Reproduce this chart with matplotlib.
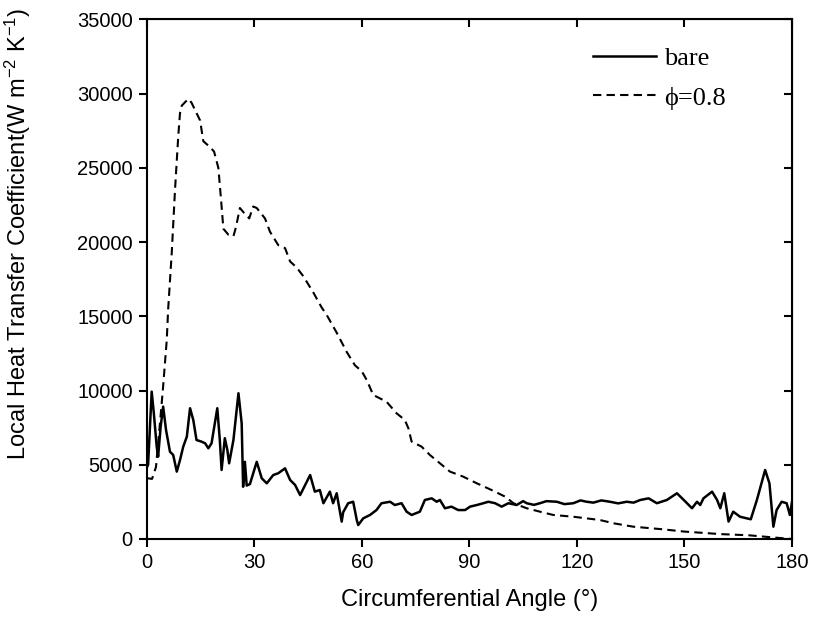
import matplotlib

matplotlib.use("Agg")
import matplotlib.pyplot as plt

plt.rcParams["font.family"] = ["Liberation Sans", "DejaVu Sans"]
plt.rcParams["mathtext.fontset"] = "custom"
plt.rcParams["mathtext.rm"] = "Liberation Sans"
plt.rcParams["mathtext.default"] = "regular"

# phi = 0.8 (dashed)
phi_angle = [0, 1.5, 2.6, 3.6, 4.6, 5.6, 6.0, 7.0, 7.9, 8.8, 9.3, 9.8, 11.6, 12.5,
             14.9, 15.8, 17.7, 18.8, 20.0, 20.9, 21.4, 22.8, 24.2, 24.9, 26.0, 27.4,
             28.6, 29.7, 30.7, 33.0, 34.4, 36.7, 38.6, 40.0, 41.8, 43.7, 46.5, 48.8,
             50.2, 53.0, 55.8, 58.1, 60.0, 61.4, 63.2, 66.9, 69.7, 72.0, 73.0, 73.9,
             76.7, 79.0, 81.8, 84.6, 88.3, 92.1, 96.2, 100.0, 102.3, 106.0, 109.7,
             113.4, 119.0, 122.7, 126.4, 130.2, 135.7, 143.2, 150, 160, 168, 175, 180]
phi_h = [4100, 4050, 4850, 7500, 10300, 13400, 15500, 19300, 23500, 27100, 28700,
         29200, 29650, 29400, 28200, 26800, 26400, 26100, 25000, 22400, 20900, 20500,
         20400, 21000, 22300, 21900, 21600, 22400, 22300, 21600, 20700, 19800, 19600,
         18700, 18300, 17700, 16600, 15600, 15100, 13900, 12600, 11700, 11300, 10700,
         9700, 9250, 8470, 8020, 7460, 6560, 6220, 5660, 5100, 4540, 4200, 3750, 3300,
         2850, 2410, 2070, 1840, 1620, 1500, 1390, 1280, 1060, 830, 670, 500, 330,
         250, 100, 0]

# bare (solid)
bare_angle = [0.0, 0.4, 1.4, 2.0, 2.8, 3.2, 3.9, 4.6, 5.4, 6.5, 7.4, 8.4, 9.3, 10.2,
              11.2, 12.1, 13.0, 13.9, 15.3, 16.3, 17.2, 18.1, 19.7, 20.4, 20.9, 21.8,
              22.5, 23.0, 24.2, 25.6, 26.5, 26.9, 27.4, 27.9, 28.8, 30.7, 32.1, 33.5,
              35.3, 36.7, 38.6, 40.0, 41.4, 42.8, 45.6, 46.9, 48.3, 49.3, 51.1, 52.0,
              53.0, 54.4, 54.8, 56.2, 57.6, 58.6, 59.0, 60.4, 62.3, 64.1, 65.5, 67.9,
              69.2, 71.1, 72.5, 73.9, 76.2, 77.6, 79.5, 80.9, 81.8, 83.2, 85.0, 86.9,
              88.8, 90.2, 92.1, 93.9, 95.3, 97.2, 99.0, 100.9, 103.2, 105.0, 106.0,
              108.0, 109.7, 111.5, 114.4, 116.5, 119.0, 121.0, 122.7, 124.6, 126.8,
              129.2, 131.5, 133.9, 135.8, 137.7, 140.0, 142.3, 145.1, 147.9, 149.8,
              152.1, 153.5, 154.4, 155.3, 157.7, 159.1, 160.0, 161.1, 162.3, 163.6,
              165.5, 167.4, 168.5, 170.2, 172.5, 173.7, 174.8, 175.7, 177.1, 178.5,
              179.4, 180.0]
bare_h = [4800, 5000, 9930, 8470, 6220, 5550, 7570, 8920, 7350, 5880, 5660, 4540, 5320,
          6220, 6890, 8810, 8020, 6670, 6560, 6450, 6110, 6450, 8810, 6670, 4650, 6790,
          6000, 5100, 6670, 9820, 7800, 3520, 5200, 3600, 3700, 5200, 4090, 3750, 4310,
          4430, 4760, 3980, 3640, 2960, 4310, 3190, 3300, 2410, 3190, 2410, 3080, 1170,
          1800, 2410, 2510, 1280, 940, 1390, 1620, 1950, 2410, 2510, 2290, 2410, 1840,
          1620, 1840, 2630, 2740, 2510, 2630, 2070, 2180, 1950, 1950, 2180, 2290, 2410,
          2510, 2410, 2180, 2410, 2290, 2550, 2410, 2300, 2410, 2550, 2510, 2350, 2410,
          2600, 2510, 2450, 2600, 2510, 2400, 2510, 2450, 2630, 2740, 2410, 2630, 3080,
          2630, 2070, 2510, 2290, 2740, 3190, 2630, 2070, 3080, 1170, 1840, 1500, 1390,
          1330, 2630, 4650, 3750, 830, 1950, 2510, 2410, 1620, 2510]

x_ticks = [0, 30, 60, 90, 120, 150, 180]
y_ticks = [0, 5000, 10000, 15000, 20000, 25000, 30000, 35000]

fig = plt.figure(figsize=(8.13, 6.25), dpi=100)
ax = fig.add_axes([0.1804, 0.1376, 0.7938, 0.8312])

ax.plot(bare_angle, bare_h, color="black", linewidth=1.8, label="bare")
ax.plot(phi_angle, phi_h, color="black", linewidth=1.5, linestyle=(0, (4, 2.5)),
        label="\u03d5=0.8")

ax.set_xlim(0, 180)
ax.set_ylim(0, 35000)
ax.set_xticks(x_ticks)
ax.set_yticks(y_ticks)
ax.tick_params(direction="out", length=6, width=1.5, labelsize=14.5, pad=4)
for s in ax.spines.values():
    s.set_linewidth(1.5)

top = ax.secondary_xaxis("top")
top.set_xticks(x_ticks)
top.tick_params(direction="in", length=6, width=1.5, labeltop=False)
right = ax.secondary_yaxis("right")
right.set_yticks(y_ticks)
right.tick_params(direction="in", length=6, width=1.5, labelright=False)

ax.set_xlabel("Circumferential Angle (\u00b0)", fontsize=17, labelpad=12)
ax.set_ylabel("Local Heat Transfer Coefficient(W m$^{-2}$ K$^{-1}$)", fontsize=17)
ax.yaxis.set_label_coords(-0.176, 0.588)

ax.legend(loc="upper left", bbox_to_anchor=(0.655, 0.993), frameon=False,
          prop={"family": ["Liberation Serif", "DejaVu Serif"], "size": 19},
          handlelength=2.4, handletextpad=0.3, labelspacing=0.6)

fig.savefig("out.png", dpi=100)
plt.close(fig)
